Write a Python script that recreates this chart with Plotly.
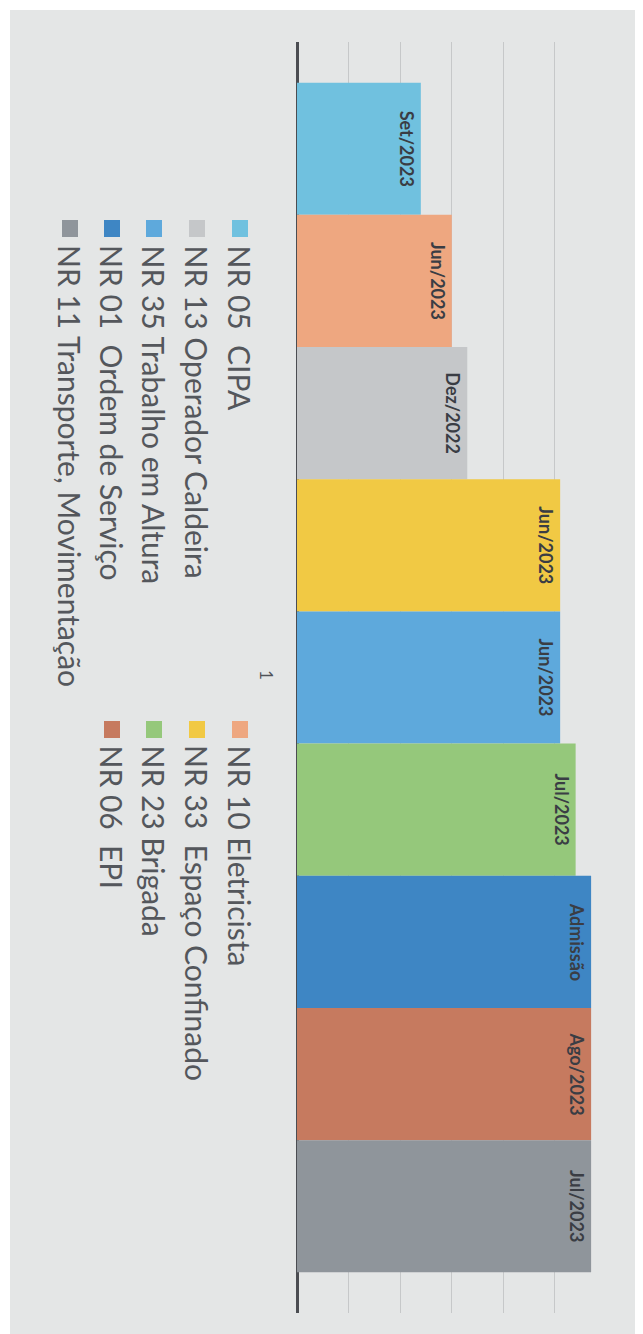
import plotly.graph_objects as go

# ---- data ----
series_names = [
    "NR 05  CIPA",
    "NR 10 Eletricista",
    "NR 13 Operador Caldeira",
    "NR 33  Espaço Confinado",
    "NR 35 Trabalho em Altura",
    "NR 23 Brigada",
    "NR 01  Ordem de Serviço",
    "NR 06  EPI",
    "NR 11 Transporte, Movimentação",
]
values = [2.4, 3.0, 3.3, 5.1, 5.1, 5.4, 5.7, 5.7, 5.7]
bar_labels = ["Set/2023", "Jun/2023", "Dez/2022", "Jun/2023", "Jun/2023",
              "Jul/2023", "Admissão", "Ago/2023", "Jul/2023"]
category = ["1"]
colors = ["#70c1df", "#eea780", "#c5c7c9", "#f1c944", "#5ea9dc",
          "#95c87b", "#3e86c4", "#c67a5f", "#8f959b"]

# ---- canvas geometry (page px; the page body has an 8px margin) ----
OFF = 8
W, H = 643 - OFF, 1334 - OFF
PLOT_L, PLOT_R, PLOT_T, PLOT_B = 297, 620, 42, 1313   # page coords
L, R = PLOT_L - OFF, W - (PLOT_R - OFF)
T, B = PLOT_T - OFF, H - (PLOT_B - OFF)
PW, PH = PLOT_R - PLOT_L, PLOT_B - PLOT_T


def xp(px):  # page px -> paper x
    return (px - PLOT_L) / PW


def yp(py):  # page px -> paper y
    return (PLOT_B - py) / PH


fig = go.Figure()
for name, v, lab, c in zip(series_names, values, bar_labels, colors):
    fig.add_trace(go.Bar(
        y=category, x=[v], orientation="h", name=name,
        marker=dict(color=c, line=dict(width=0)),
        text=[lab], textposition="inside", insidetextanchor="end",
        textangle=90, constraintext="none",
        textfont=dict(family="Lato", size=18, color="#3a3d44", weight="bold"),
        showlegend=False, hoverinfo="skip",
    ))

# ---- rotated legend (two columns) ----
line_x = [240, 197, 154, 112, 70]
col_sq_y = [(220, 237), (721, 738)]
col_text_y = [243, 743]
shapes = [dict(type="rect", xref="paper", yref="paper",
               x0=xp(10), x1=xp(636), y0=yp(1334), y1=yp(10),
               fillcolor="#e4e6e6", line=dict(width=0), layer="below")]
annotations = []
for i, (name, c) in enumerate(zip(series_names, colors)):
    col = i % 2
    row = i // 2
    cx = line_x[row]
    s0, s1 = col_sq_y[col]
    shapes.append(dict(type="rect", xref="paper", yref="paper",
                       x0=xp(cx - 8), x1=xp(cx + 8), y0=yp(s1), y1=yp(s0),
                       fillcolor=c, line=dict(width=0)))
    annotations.append(dict(
        text=name, textangle=90, xref="paper", yref="paper",
        x=xp(cx), y=yp(col_text_y[col]), xanchor="center", yanchor="top",
        showarrow=False,
        font=dict(family="Lato", size=30, color="#54575c"),
    ))

fig.update_layout(
    width=W, height=H,
    margin=dict(l=L, r=R, t=T, b=B),
    paper_bgcolor="#ffffff",
    plot_bgcolor="rgba(0,0,0,0)",
    barmode="group", bargap=0.064, bargroupgap=0,
    shapes=shapes, annotations=annotations,
    xaxis=dict(range=[0, 6.26], tickvals=[0, 1, 2, 3, 4, 5],
               showticklabels=False, showgrid=True, gridcolor="#c6c8c9",
               gridwidth=1, zeroline=True, zerolinecolor="#4b4d52",
               zerolinewidth=2.5, showline=False),
    yaxis=dict(autorange="reversed", tickangle=90, showgrid=False,
               ticks="", ticklabelstandoff=19, showline=False,
               tickfont=dict(family="Lato", size=17, color="#505358")),
)

fig.write_html("out.html")
